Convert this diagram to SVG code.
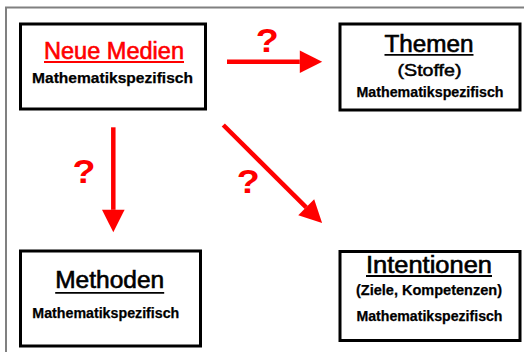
<svg xmlns="http://www.w3.org/2000/svg" width="524" height="352" viewBox="0 0 524 352">
  <style>
    .box { fill: #ffffff; stroke: #000000; stroke-width: 3; }
    .t { font-family: "Liberation Sans", Arial, sans-serif; text-anchor: middle; fill: #000000; }
    .title { font-size: 23px; stroke: #000000; stroke-width: 0.6; }
    .red { fill: #ff0000; stroke: #ff0000; }
    .sub { font-size: 14px; font-weight: bold; stroke: #000000; stroke-width: 0.25; }
    .ul { stroke: #000000; stroke-width: 1.8; }
    .ulr { stroke: #ff0000; stroke-width: 1.8; }
    .conn { stroke: #ff0000; stroke-width: 4.5; fill: none; }
    .q { font-family: "Liberation Sans", Arial, sans-serif; font-size: 33px; font-weight: bold; fill: #ff0000; text-anchor: middle; }
  </style>
  <defs>
    <marker id="head" markerUnits="userSpaceOnUse" markerWidth="24" markerHeight="24" refX="0" refY="0" viewBox="0 -12 24 24" orient="auto" overflow="visible">
      <path d="M0,-11.3 L22.4,0 L0,11.3 Z" fill="#ff0000"/>
    </marker>
  </defs>
  <rect x="0" y="0" width="524" height="352" fill="#ffffff"/>
  <rect x="6" y="7.5" width="540" height="370" fill="none" stroke="#808080" stroke-width="2"/>

  <g id="node-neue-medien">
    <rect class="box" x="20.5" y="24" width="185" height="85"/>
    <text class="t title red" x="114" y="59" textLength="140" lengthAdjust="spacingAndGlyphs">Neue Medien</text>
    <line class="ulr" x1="44" y1="62" x2="184" y2="62"/>
    <text class="t sub" x="112.5" y="83" style="font-size:15px" textLength="161" lengthAdjust="spacingAndGlyphs">Mathematikspezifisch</text>
  </g>

  <g id="node-themen">
    <rect class="box" x="340" y="24" width="180" height="86"/>
    <text class="t title" x="429" y="52" textLength="89" lengthAdjust="spacingAndGlyphs">Themen</text>
    <line class="ul" x1="384.5" y1="54.8" x2="473.5" y2="54.8"/>
    <text class="t" x="429.5" y="76" style="font-size:17px" stroke="#000000" stroke-width="0.5" textLength="64" lengthAdjust="spacingAndGlyphs">(Stoffe)</text>
    <text class="t sub" x="430" y="96.5" textLength="147" lengthAdjust="spacingAndGlyphs">Mathematikspezifisch</text>
  </g>

  <g id="node-methoden">
    <rect class="box" x="20.5" y="251" width="180" height="95"/>
    <text class="t title" x="109.7" y="287.7" textLength="109" lengthAdjust="spacingAndGlyphs">Methoden</text>
    <line class="ul" x1="55.2" y1="292.8" x2="164.2" y2="292.8"/>
    <text class="t sub" x="105.8" y="318" textLength="147" lengthAdjust="spacingAndGlyphs">Mathematikspezifisch</text>
  </g>

  <g id="node-intentionen">
    <rect class="box" x="340" y="251.5" width="180" height="89"/>
    <text class="t title" x="429" y="273" textLength="126" lengthAdjust="spacingAndGlyphs">Intentionen</text>
    <line class="ul" x1="366" y1="276" x2="492" y2="276"/>
    <text class="t sub" x="429" y="295" textLength="146" lengthAdjust="spacingAndGlyphs">(Ziele, Kompetenzen)</text>
    <text class="t sub" x="429.5" y="320.5" textLength="146" lengthAdjust="spacingAndGlyphs">Mathematikspezifisch</text>
  </g>

  <g id="connectors">
    <line class="conn" x1="227" y1="61.7" x2="299.8" y2="61.7" marker-end="url(#head)"/>
    <line class="conn" x1="113.3" y1="127.3" x2="113.3" y2="209.8" marker-end="url(#head)"/>
    <line class="conn" x1="223.3" y1="125" x2="306.2" y2="207.3" marker-end="url(#head)"/>
    <text class="q" x="267.3" y="51.5" textLength="23" lengthAdjust="spacingAndGlyphs">?</text>
    <text class="q" x="84" y="183.3" textLength="23" lengthAdjust="spacingAndGlyphs">?</text>
    <text class="q" x="248.3" y="192.7" textLength="23" lengthAdjust="spacingAndGlyphs">?</text>
  </g>
</svg>
